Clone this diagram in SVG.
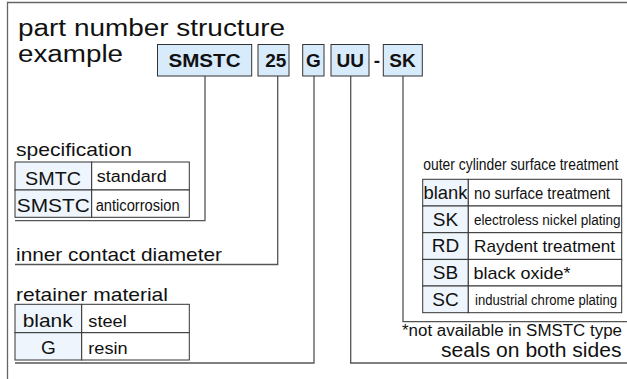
<svg xmlns="http://www.w3.org/2000/svg" width="627" height="379" viewBox="0 0 627 379">
<style>
text{font-family:"Liberation Sans",Arial,sans-serif;fill:#111}
.hb{fill:#d8ebfb;stroke:#333;stroke-width:1}
.hd{font-weight:bold;font-size:19px;text-anchor:middle}
.key{fill:#eef5fc;stroke:#333;stroke-width:1}
.cell{fill:#fff;stroke:#333;stroke-width:1}
.ln{fill:none;stroke:#555;stroke-width:1.3}
.frame{fill:none;stroke:#666;stroke-width:1.3}
.k{font-size:19px;text-anchor:middle}
.d{font-size:16px}
</style>
<rect width="627" height="379" fill="#fff"/>
<path class="frame" d="M7.5,379 V2.5 H627"/>
<g id="title">
<text x="18" y="36" font-size="23" textLength="267" lengthAdjust="spacingAndGlyphs">part number structure</text>
<text x="18" y="61.5" font-size="23" textLength="105" lengthAdjust="spacingAndGlyphs">example</text>
</g>
<g id="connectors">
<path class="ln" d="M205,76 V220.7 H15"/>
<path class="ln" d="M277.7,76 V264.5 H15"/>
<path class="ln" d="M314,76 V363 H15"/>
<path class="ln" d="M350.7,76 V363 H627"/>
<path class="ln" d="M403,76 V321.7 H627"/>
</g>
<g id="code-smstc"><rect class="hb" x="157.5" y="44.5" width="94.2" height="31.5"/><text class="hd" x="204.5" y="67" textLength="72" lengthAdjust="spacingAndGlyphs">SMSTC</text></g>
<g id="code-25"><rect class="hb" x="258" y="44.5" width="31" height="31.5"/><text class="hd" x="275.8" y="67">25</text></g>
<g id="code-g"><rect class="hb" x="302.7" y="44.5" width="21.3" height="31.5"/><text class="hd" x="313.4" y="67">G</text></g>
<g id="code-uu"><rect class="hb" x="331" y="44.5" width="38" height="31.5"/><text class="hd" x="350.2" y="67">UU</text></g>
<text class="hd" x="377" y="67">-</text>
<g id="code-sk"><rect class="hb" x="383.3" y="44.5" width="39" height="31.5"/><text class="hd" x="402.5" y="67">SK</text></g>
<g id="specification">
<text x="16" y="156" font-size="19" textLength="116" lengthAdjust="spacingAndGlyphs">specification</text>
<rect class="key" x="15" y="162" width="76.7" height="28"/>
<rect class="cell" x="91.7" y="162" width="97.6" height="28"/>
<rect class="key" x="15" y="190" width="76.7" height="27.3"/>
<rect class="cell" x="91.7" y="190" width="97.6" height="27.3"/>
<text class="k" x="53" y="185" textLength="56" lengthAdjust="spacingAndGlyphs">SMTC</text>
<text class="k" x="53.3" y="212" textLength="73" lengthAdjust="spacingAndGlyphs">SMSTC</text>
<text class="d" x="96.7" y="181.5" textLength="70" lengthAdjust="spacingAndGlyphs">standard</text>
<text class="d" x="95.7" y="211" textLength="84" lengthAdjust="spacingAndGlyphs">anticorrosion</text>
</g>
<g id="inner-contact-diameter">
<text x="16" y="260.5" font-size="19" textLength="206" lengthAdjust="spacingAndGlyphs">inner contact diameter</text>
</g>
<g id="retainer-material">
<text x="16" y="300.5" font-size="19" textLength="152" lengthAdjust="spacingAndGlyphs">retainer material</text>
<rect class="key" x="15" y="304.3" width="66.7" height="28.4"/>
<rect class="cell" x="81.7" y="304.3" width="107.6" height="28.4"/>
<rect class="key" x="15" y="332.7" width="66.7" height="27.3"/>
<rect class="cell" x="81.7" y="332.7" width="107.6" height="27.3"/>
<text class="k" x="47.7" y="326.5" font-size="18" textLength="50" lengthAdjust="spacingAndGlyphs">blank</text>
<text class="k" x="48.3" y="354">G</text>
<text x="88.3" y="326.5" font-size="17" textLength="38.4" lengthAdjust="spacingAndGlyphs">steel</text>
<text x="88.3" y="354" font-size="17" textLength="39.4" lengthAdjust="spacingAndGlyphs">resin</text>
</g>
<g id="outer-cylinder-surface-treatment">
<text transform="translate(423.3,170) scale(0.867,1)" font-size="16">outer cylinder surface treatment</text>
<rect class="key" x="422.7" y="179.3" width="45.6" height="26.7"/>
<rect class="cell" x="468.3" y="179.3" width="153.4" height="26.7"/>
<rect class="key" x="422.7" y="206" width="45.6" height="26.7"/>
<rect class="cell" x="468.3" y="206" width="153.4" height="26.7"/>
<rect class="key" x="422.7" y="232.7" width="45.6" height="26.7"/>
<rect class="cell" x="468.3" y="232.7" width="153.4" height="26.7"/>
<rect class="key" x="422.7" y="259.4" width="45.6" height="26.6"/>
<rect class="cell" x="468.3" y="259.4" width="153.4" height="26.6"/>
<rect class="key" x="422.7" y="286" width="45.6" height="26.7"/>
<rect class="cell" x="468.3" y="286" width="153.4" height="26.7"/>
<text class="k" x="445.5" y="199" textLength="44" lengthAdjust="spacingAndGlyphs">blank</text>
<text class="k" x="445.5" y="225.7">SK</text>
<text class="k" x="445.5" y="252.4">RD</text>
<text class="k" x="445.5" y="279.1">SB</text>
<text class="k" x="445.5" y="305.7">SC</text>
<text class="d" x="474" y="198.5" textLength="136" lengthAdjust="spacingAndGlyphs">no surface treatment</text>
<text x="474" y="225" font-size="14" textLength="146.5" lengthAdjust="spacingAndGlyphs">electroless nickel plating</text>
<text x="474" y="252" font-size="17" textLength="141" lengthAdjust="spacingAndGlyphs">Raydent treatment</text>
<text x="473.5" y="279" font-size="17" textLength="97" lengthAdjust="spacingAndGlyphs">black oxide*</text>
<text x="475" y="305" font-size="14" textLength="142" lengthAdjust="spacingAndGlyphs">industrial chrome plating</text>
</g>
<g id="notes">
<text x="402" y="336" font-size="16" textLength="220" lengthAdjust="spacingAndGlyphs">*not available in SMSTC type</text>
<text x="441" y="357" font-size="20" textLength="180.5" lengthAdjust="spacingAndGlyphs">seals on both sides</text>
</g>
</svg>
